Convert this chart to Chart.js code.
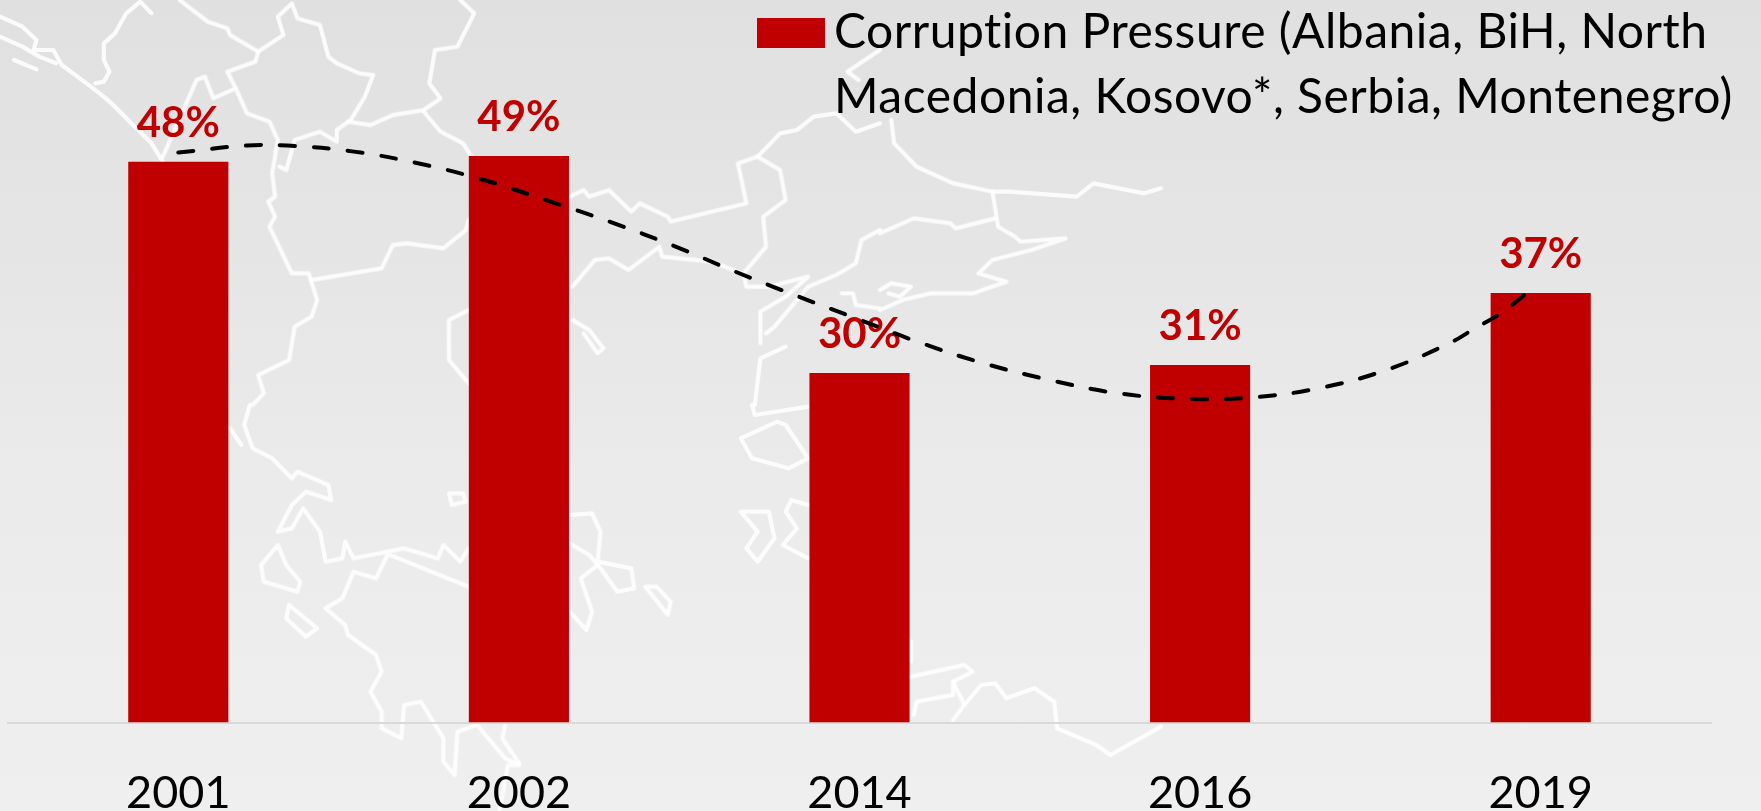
<!DOCTYPE html>
<html>
<head>
<meta charset="utf-8">
<script src="https://cdn.jsdelivr.net/npm/chart.js@4"></script>
<style>
html,body{margin:0;padding:0;width:1761px;height:811px;overflow:hidden;background:linear-gradient(#e0e0e1,#e6e6e7 35%,#ebebec 60%,#efeff0)}
#map,#c{position:absolute;left:0;top:0}
#map path{fill:none;stroke:#fff;stroke-width:4.2;stroke-linejoin:round;stroke-linecap:round;vector-effect:non-scaling-stroke;opacity:.85}
</style>
</head>
<body>
<svg id="map" width="1761" height="811" viewBox="0 0 1761 811">
<defs><filter id="soft"><feGaussianBlur stdDeviation="0.6"/></filter></defs>
<g filter="url(#soft)">
<g transform="scale(0.5612,0.3333)">
<path d="M0,50 L40,80 L65,120 L60,150 L95,150 L110,195 L150,245 L185,290 L205,320 L240,380 L270,430 L290,485"/>
<path d="M0,110 L40,140 L70,170 L100,190"/><path d="M25,180 L65,208"/>
<path d="M270,40 L250,5 L225,40 L205,100 L185,130 L185,180 L195,215 L185,245 L170,250"/>
<path d="M320,0 L370,65 L405,85 L410,105 L460,155 L455,185 L405,215 L420,265 L440,340 L480,365 L495,420 L485,520 L490,590 L478,605 L490,650 L480,680 L520,820 L550,820 L565,900 L555,950 L525,980 L515,1080 L460,1125 L470,1180 L450,1215"/>
<path d="M460,155 L505,105 L495,50 L520,10 L530,55 L570,75 L585,170 L600,190 L640,220 L665,225 L650,290 L625,360 L600,390 L600,425 L570,395 L525,420 L510,510 L498,500"/>
<path d="M820,0 L845,40 L815,140 L775,150 L765,250 L785,295 L755,330 L700,345 L660,375 L620,365"/>
<path d="M755,335 L785,395 L825,430 L840,470"/>
<path d="M290,470 L350,240 L365,230 L380,295 L420,265"/>
<path d="M555,840 L680,805 L700,735 L725,730 L790,745 L830,690 L835,660"/>
<path d="M1015,590 L1040,570 L1050,590 L1085,570 L1125,635 L1140,610 L1190,650 L1195,665 L1330,610 L1315,490 L1350,470 L1390,510 L1400,600 L1360,650 L1365,740 L1325,820 L1330,860 L1370,860 L1440,830 L1400,890 L1355,935 L1355,1030"/>
<path d="M1350,470 L1390,400 L1420,390 L1450,350 L1490,340 L1525,395 L1568,370"/>
<path d="M1020,860 L1060,780 L1085,775 L1120,810 L1175,740 L1180,770 L1270,785 L1320,820"/>
<path d="M835,930 L800,960 L800,1080 L835,1150"/>
<path d="M1020,960 L1050,990 L1075,1045 L1065,1060 L1040,1000"/>
<path d="M1568,690 L1535,720 L1525,790 L1490,825 L1440,860 L1380,980 L1365,1000"/>
<path d="M1500,880 L1520,880 L1525,915 L1568,925"/>
<path d="M1400,1040 L1355,1075 L1345,1215"/>
<path d="M1568,150 L1510,215 L1530,240"/>
</g>
<g transform="translate(880,0) scale(0.5619,0.3333)">
<path d="M20,360 L25,430 L65,500 L130,550 L200,575 L210,680 L240,710 L250,725 L330,715 L270,750 L200,780 L175,820 L225,845 L165,880 L90,880 L40,900 L0,930"/>
<path d="M200,575 L230,575 L350,590 L380,550 L470,580 L500,565"/>
<path d="M0,700 L60,655 L125,670 L135,685 L205,655"/>
<path d="M0,870 L20,850 L55,860 L35,890 L15,880"/>
</g>
<g transform="translate(0,405) scale(0.5612,0.3333)">
<path d="M445,0 L435,60 L450,130 L485,160 L520,220 L530,200 L585,240 L590,285 L545,260 L520,300 L495,380 L520,370 L540,310 L570,380 L580,470 L610,460 L615,410 L630,460 L690,440 L720,430 L780,460 L790,420 L820,470 L835,430"/>
<path d="M410,70 L430,120"/>
<path d="M695,450 L835,545"/>
<path d="M690,450 L670,520 L630,500 L610,580 L580,610 L615,660 L620,690 L670,750 L680,800 L660,860 L680,920 L680,970 L715,1000 L720,900 L750,890 L790,1000 L790,1070 L810,1110 L815,980 L850,960 L900,1060 L925,1080 L905,1080 L890,1215"/>
<path d="M900,960 L895,1000 L925,1075"/>
<path d="M495,420 L465,480 L470,530 L530,560 L535,530 L510,480 Z"/>
<path d="M515,600 L510,640 L545,695 L565,670 Z"/>
<path d="M800,265 L805,300 L830,290 L825,265 Z"/>
<path d="M1015,330 L1055,325 L1070,380 L1065,470 L1125,490 L1130,550 L1100,560 L1070,490 L1050,450 L1015,415"/>
<path d="M1065,480 L1035,520 L1055,620 L1045,675 L1015,620"/>
<path d="M1150,545 L1170,545 L1195,590 L1190,630 Z"/>
<path d="M1340,0 L1345,30 L1440,5"/>
<path d="M1385,50 L1320,100 L1340,160 L1405,190 L1440,160 L1400,60 Z"/>
<path d="M1320,320 L1370,320 L1380,400 L1350,470 L1330,430 L1350,380 Z"/>
<path d="M1440,300 L1410,285 L1400,320 L1420,370 L1395,420 L1440,460"/>
</g>
<g transform="translate(880,405) scale(0.5619,0.3333)">
<path d="M55,710 L55,770"/>
<path d="M55,815 L150,780 L165,800 L130,830 L130,870 L65,890 L60,930"/>
<path d="M130,830 L150,900 L130,945"/>
<path d="M150,900 L180,840 L205,835 L225,880 L265,855 L275,850 L310,890 L315,970 L385,1020 L410,1050 L500,965"/>
</g>
</g>
</svg>
<canvas id="c" width="1761" height="811"></canvas>
<script>
const categories = ['2001', '2002', '2014', '2016', '2019'];
const values = [48.3, 48.8, 30.1, 30.8, 37.0];
const valueLabels = ['48%', '49%', '30%', '31%', '37%'];
const legendLines = ['Corruption Pressure (Albania, BiH, North', 'Macedonia, Kosovo*, Serbia, Montenegro)'];
const trendX = [0, 0.2, 0.32, 0.51, 0.7, 0.89, 1.08, 1.27, 1.46, 1.63, 1.82, 2, 2.18, 2.37, 2.56, 2.75, 2.95, 3.15, 3.35, 3.54, 3.72, 3.81, 3.89, 3.98];
const trendY = [49.1, 49.7, 49.7, 49.2, 48.2, 46.8, 45, 43.1, 41, 38.9, 36.7, 34.7, 32.7, 30.9, 29.5, 28.4, 27.9, 28, 28.8, 30.3, 32.5, 34, 35.4, 37.5];
const RED = '#c00000';
const FONT = 'Lato, Carlito, "Open Sans", sans-serif';

const valueLabelPlugin = {
  id: 'valueLabelPlugin',
  afterDatasetDraw(chart, args) {
    if (args.index !== 1) return;
    const ctx = chart.ctx;
    ctx.save();
    ctx.font = 'bold 42px ' + FONT;
    ctx.fillStyle = RED;
    ctx.textAlign = 'center';
    ctx.textBaseline = 'alphabetic';
    args.meta.data.forEach((bar, i) => {
      ctx.fillText(valueLabels[i], bar.x, bar.y - 25);
    });
    ctx.restore();
  }
};

const legendPlugin = {
  id: 'legendPlugin',
  afterDraw(chart) {
    const ctx = chart.ctx;
    ctx.save();
    ctx.fillStyle = RED;
    ctx.fillRect(757, 18, 68, 30);
    ctx.fillStyle = '#000';
    ctx.font = '48px ' + FONT;
    ctx.letterSpacing = '0.5px';
    ctx.textAlign = 'left';
    ctx.textBaseline = 'alphabetic';
    legendLines.forEach((t, i) => ctx.fillText(t, 834, 48 + i * 65));
    ctx.restore();
  }
};

new Chart(document.getElementById('c'), {
  type: 'bar',
  data: {
    labels: categories,
    datasets: [
      {
        type: 'line',
        label: 'Trend',
        data: trendX.map((x, i) => ({ x, y: trendY[i] })),
        xAxisID: 'x2',
        yAxisID: 'y',
        borderColor: '#000',
        borderWidth: 4,
        borderDash: [15, 19],
        borderCapStyle: 'round',
        pointRadius: 0,
        tension: 0.4,
        fill: false,
        order: 0
      },
      {
        type: 'bar',
        label: legendLines.join(' '),
        data: values,
        xAxisID: 'x',
        yAxisID: 'y',
        backgroundColor: RED,
        barPercentage: 0.294,
        categoryPercentage: 1,
        grouped: false,
        order: 1
      }
    ]
  },
  options: {
    responsive: false,
    animation: false,
    layout: { padding: { left: 8, right: 50, top: 26, bottom: 0 } },
    plugins: { legend: { display: false }, tooltip: { enabled: false } },
    scales: {
      x: {
        type: 'category',
        grid: { display: false, drawTicks: false },
        border: { display: true, color: '#d9d9d9', width: 2 },
        ticks: { color: '#000', font: { family: FONT, size: 45 }, padding: 44, maxRotation: 0 },
        afterFit(s) { s.height = 88.5; }
      },
      x2: { type: 'linear', display: false, offset: false, min: -0.5, max: 4.5 },
      y: { display: false, min: 0, max: 60 }
    }
  },
  plugins: [valueLabelPlugin, legendPlugin]
});
</script>
</body>
</html>
